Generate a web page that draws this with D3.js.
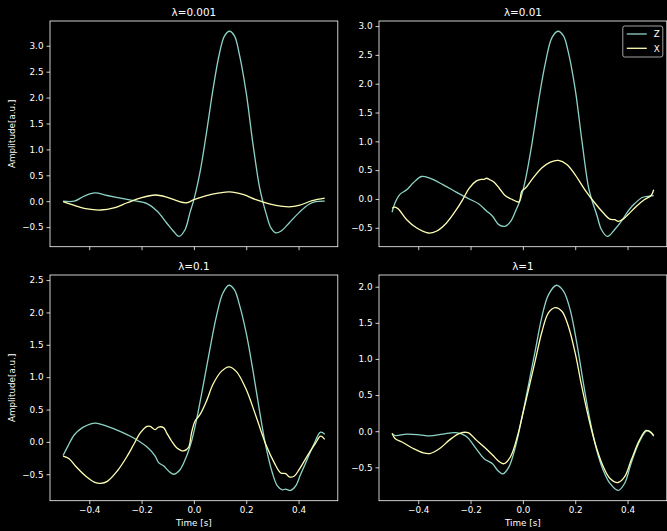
<!DOCTYPE html>
<html>
<head>
<meta charset="utf-8">
<title>Z / X amplitude</title>
<script src="https://cdnjs.cloudflare.com/ajax/libs/d3/7.8.5/d3.min.js"></script>
<style>
  body { margin: 0; background: #000; }
  svg { display: block; background: #000; }
  text { font-family: "DejaVu Sans", sans-serif; fill: #fff; }
</style>
</head>
<body>
<script>

    var width = 667,
        height = 531,
        colZ = "#8dd3c7",
        colX = "#feffb3";

    // titles and ticks
    var titles = ["λ=0.001", "λ=0.01", "λ=0.1", "λ=1"];
    var xTicks = [-0.4, -0.2, 0, 0.2, 0.4];
    var yTicksA = [-0.5, 0, 0.5, 1, 1.5, 2, 2.5, 3];
    var yTicksB = [-0.5, 0, 0.5, 1, 1.5, 2, 2.5];
    var yTicksC = [-0.5, 0, 0.5, 1, 1.5, 2];
    var legendLabels = ["Z", "X"];

    // [time, amplitude]
    var z0001 = [[-0.5,0],[-0.457,0],[-0.419,0.1],[-0.379,0.16],[-0.331,0.11],[-0.28,0.06],[-0.23,0.01],
        [-0.179,-0.045],[-0.141,-0.19],[-0.104,-0.42],[-0.078,-0.58],[-0.057,-0.68],[-0.034,-0.55],[-0.015,-0.22],
        [0,0.03],[0.023,0.55],[0.048,1.32],[0.073,2.16],[0.098,2.86],[0.117,3.19],[0.136,3.28],[0.155,3.19],
        [0.174,2.83],[0.2,2.09],[0.225,1.13],[0.25,0.29],[0.263,0],[0.275,-0.22],[0.294,-0.51],[0.313,-0.61],
        [0.332,-0.58],[0.364,-0.42],[0.402,-0.22],[0.44,-0.06],[0.465,-0.01],[0.5,0]];
    var x0001 = [[-0.5,-0.01],[-0.457,-0.08],[-0.407,-0.15],[-0.356,-0.17],[-0.306,-0.13],[-0.255,-0.03],
        [-0.205,0.06],[-0.148,0.12],[-0.104,0.08],[-0.066,0.01],[-0.028,-0.03],[0,0.03],[0.048,0.11],[0.098,0.16],
        [0.136,0.18],[0.187,0.13],[0.237,0.03],[0.288,-0.05],[0.338,-0.1],[0.364,-0.11],[0.402,-0.08],[0.452,0.01],[0.5,0.06]];

    var z001 = [[-0.5,-0.23],[-0.489,-0.07],[-0.47,0.08],[-0.444,0.16],[-0.419,0.28],[-0.388,0.39],[-0.356,0.36],
        [-0.306,0.25],[-0.255,0.12],[-0.205,0],[-0.167,-0.09],[-0.141,-0.2],[-0.116,-0.3],[-0.091,-0.45],
        [-0.066,-0.47],[-0.047,-0.39],[-0.028,-0.21],[-0.009,0],[0.01,0.34],[0.035,0.97],[0.061,1.73],[0.086,2.36],
        [0.111,2.8],[0.134,2.91],[0.155,2.83],[0.174,2.54],[0.2,1.9],[0.225,1.03],[0.25,0.22],[0.263,-0.01],
        [0.282,-0.27],[0.3,-0.53],[0.323,-0.65],[0.351,-0.53],[0.376,-0.39],[0.402,-0.21],[0.427,-0.08],
        [0.458,0.03],[0.484,0.05],[0.5,0.06]];
    var x001 = [[-0.5,-0.16],[-0.489,-0.14],[-0.477,-0.17],[-0.444,-0.36],[-0.407,-0.5],[-0.362,-0.59],[-0.331,-0.56],
        [-0.293,-0.42],[-0.255,-0.19],[-0.23,-0.01],[-0.205,0.19],[-0.179,0.31],[-0.16,0.34],[-0.148,0.34],
        [-0.139,0.36],[-0.129,0.34],[-0.11,0.29],[-0.091,0.19],[-0.066,0.05],[-0.04,-0.01],[-0.015,-0.05],
        [-0.005,0.13],[0.01,0.19],[0.035,0.34],[0.073,0.54],[0.105,0.64],[0.136,0.67],[0.168,0.6],[0.2,0.42],
        [0.237,0.16],[0.275,-0.07],[0.307,-0.24],[0.332,-0.35],[0.351,-0.36],[0.364,-0.39],[0.383,-0.35],
        [0.402,-0.27],[0.433,-0.13],[0.465,-0.01],[0.49,0.06],[0.5,0.16]];

    var z01 = [[-0.5,-0.21],[-0.482,-0.07],[-0.457,0.11],[-0.426,0.22],[-0.394,0.28],[-0.375,0.29],[-0.331,0.24],
        [-0.28,0.16],[-0.23,0.06],[-0.179,-0.08],[-0.148,-0.22],[-0.135,-0.32],[-0.116,-0.37],[-0.097,-0.45],
        [-0.078,-0.5],[-0.053,-0.43],[-0.028,-0.22],[-0.009,0.01],[0.01,0.34],[0.035,0.86],[0.061,1.43],
        [0.086,1.94],[0.111,2.3],[0.134,2.42],[0.155,2.35],[0.174,2.12],[0.2,1.68],[0.225,1.12],[0.25,0.5],
        [0.275,-0.07],[0.3,-0.48],[0.319,-0.68],[0.338,-0.74],[0.351,-0.73],[0.37,-0.75],[0.389,-0.68],
        [0.408,-0.5],[0.433,-0.27],[0.458,-0.04],[0.484,0.15],[0.5,0.12]];
    var x01 = [[-0.5,-0.22],[-0.477,-0.26],[-0.451,-0.38],[-0.413,-0.53],[-0.381,-0.62],[-0.356,-0.64],[-0.331,-0.61],
        [-0.293,-0.45],[-0.255,-0.22],[-0.23,-0.04],[-0.205,0.14],[-0.179,0.24],[-0.167,0.24],[-0.148,0.19],
        [-0.135,0.23],[-0.116,0.22],[-0.104,0.14],[-0.085,0.01],[-0.066,-0.09],[-0.04,-0.14],[-0.021,-0.09],
        [-0.009,0.14],[0.004,0.32],[0.023,0.42],[0.048,0.63],[0.073,0.89],[0.105,1.09],[0.134,1.16],[0.162,1.09],
        [0.2,0.81],[0.237,0.4],[0.275,-0.04],[0.307,-0.32],[0.332,-0.48],[0.351,-0.49],[0.364,-0.54],
        [0.383,-0.53],[0.402,-0.43],[0.433,-0.22],[0.465,-0.02],[0.484,0.09],[0.5,0.04]];

    var z1 = [[-0.5,-0.03],[-0.489,-0.06],[-0.444,-0.04],[-0.394,-0.05],[-0.356,-0.065],[-0.306,-0.04],
        [-0.255,-0.02],[-0.217,-0.07],[-0.179,-0.24],[-0.148,-0.38],[-0.116,-0.45],[-0.097,-0.54],[-0.076,-0.59],
        [-0.053,-0.49],[-0.028,-0.21],[-0.003,0.2],[0.023,0.67],[0.048,1.13],[0.073,1.59],[0.098,1.89],
        [0.128,2.02],[0.155,1.94],[0.18,1.69],[0.206,1.22],[0.231,0.67],[0.256,0.16],[0.282,-0.26],[0.307,-0.54],
        [0.332,-0.72],[0.364,-0.82],[0.389,-0.72],[0.414,-0.44],[0.446,-0.14],[0.471,0],[0.484,0],[0.5,-0.07]];
    var x1 = [[-0.5,-0.03],[-0.489,-0.1],[-0.457,-0.16],[-0.419,-0.24],[-0.381,-0.3],[-0.356,-0.31],[-0.318,-0.24],
        [-0.28,-0.12],[-0.242,-0.03],[-0.21,-0.02],[-0.179,-0.12],[-0.148,-0.22],[-0.116,-0.33],[-0.091,-0.42],
        [-0.072,-0.45],[-0.047,-0.35],[-0.021,-0.07],[-0.003,0.2],[0.023,0.6],[0.048,0.99],[0.073,1.38],
        [0.098,1.64],[0.124,1.71],[0.149,1.66],[0.174,1.45],[0.2,1.08],[0.225,0.62],[0.256,0.11],[0.282,-0.24],
        [0.307,-0.49],[0.332,-0.65],[0.364,-0.71],[0.389,-0.63],[0.414,-0.4],[0.446,-0.12],[0.471,0.01],
        [0.49,-0.02],[0.5,-0.06]];

    var panels = [
        {title: titles[0], z: z0001, x: x0001, yTicks: yTicksA, left: 50, top: 21, xLabels: false, yLabel: true, legend: false},
        {title: titles[1], z: z001, x: x001, yTicks: yTicksA, left: 379, top: 21, xLabels: false, yLabel: false, legend: true},
        {title: titles[2], z: z01, x: x01, yTicks: yTicksB, left: 50, top: 275, xLabels: true, yLabel: true, legend: false},
        {title: titles[3], z: z1, x: x1, yTicks: yTicksC, left: 379, top: 275, xLabels: true, yLabel: false, legend: false}
    ];

    var pw = 287.8, ph = 225.7;

    var svg = d3.select("body").append("svg")
        .attr("width", width)
        .attr("height", height);

    panels.forEach(drawPanel);

    function drawPanel(p){
        var x = d3.scaleLinear().domain([-0.55, 0.55]).range([0, pw]);

        var all = p.z.concat(p.x).map(function(d){ return d[1]; }),
            lo = d3.min(all), hi = d3.max(all), pad = (hi - lo) * 0.05;
        var y = d3.scaleLinear().domain([lo - pad, hi + pad]).range([ph, 0]);

        var g = svg.append("g")
            .attr("transform", "translate(" + p.left + "," + p.top + ")");

        var line = d3.line()
            .curve(d3.curveCatmullRom.alpha(0.5))
            .x(function(d){ return x(d[0]); })
            .y(function(d){ return y(d[1]); });

        g.append("path").attr("d", line(p.z))
            .attr("fill", "none").attr("stroke", colZ).attr("stroke-width", 1.3);
        g.append("path").attr("d", line(p.x))
            .attr("fill", "none").attr("stroke", colX).attr("stroke-width", 1.3);

        var xAxis = d3.axisBottom(x)
            .tickValues(xTicks)
            .tickSize(3.5)
            .tickPadding(3)
            .tickFormat(p.xLabels ? d3.format(".1f") : "");
        var yAxis = d3.axisLeft(y)
            .tickValues(p.yTicks)
            .tickSize(3.5)
            .tickPadding(3)
            .tickFormat(d3.format(".1f"));

        styleAxis(g.append("g").attr("transform", "translate(0," + ph + ")").call(xAxis));
        styleAxis(g.append("g").call(yAxis));

        g.append("rect")
            .attr("width", pw).attr("height", ph)
            .attr("fill", "none").attr("stroke", "#fff").attr("stroke-width", 0.8);

        g.append("text")
            .attr("x", pw / 2).attr("y", -5.2)
            .attr("text-anchor", "middle")
            .style("font-size", "10.4px")
            .text(p.title);

        if (p.xLabels) {
            g.append("text")
                .attr("x", pw / 2).attr("y", ph + 25)
                .attr("text-anchor", "middle")
                .style("font-size", "8.8px")
                .text("Time [s]");
        }
        if (p.yLabel) {
            g.append("text")
                .attr("transform", "translate(" + (15 - p.left) + "," + (ph / 2) + ") rotate(-90)")
                .attr("text-anchor", "middle")
                .style("font-size", "8.8px")
                .text("Amplitude[a.u.]");
        }
        if (p.legend) drawLegend(g);
    }

    function styleAxis(a){
        a.select(".domain").remove();
        a.attr("font-family", null).attr("font-size", null);
        a.selectAll("line").attr("stroke", "#fff").attr("stroke-width", 0.8);
        a.selectAll("text").style("font-size", "8.8px").attr("fill", "#fff");
    }

    function drawLegend(g){
        var lg = g.append("g").attr("transform", "translate(" + (pw - 44) + ",5)");
        lg.append("rect")
            .attr("width", 40).attr("height", 31).attr("rx", 2)
            .attr("fill", "#000").attr("stroke", "#ccc").attr("stroke-width", 0.8);
        [colZ, colX].forEach(function(c, i){
            var yy = 8 + i * 14.3;
            lg.append("line")
                .attr("x1", 4).attr("x2", 24).attr("y1", yy).attr("y2", yy)
                .attr("stroke", c).attr("stroke-width", 1.3);
            lg.append("text")
                .attr("x", 31).attr("y", yy + 3.2)
                .style("font-size", "8.8px")
                .text(legendLabels[i]);
        });
    }
</script>
</body>
</html>
